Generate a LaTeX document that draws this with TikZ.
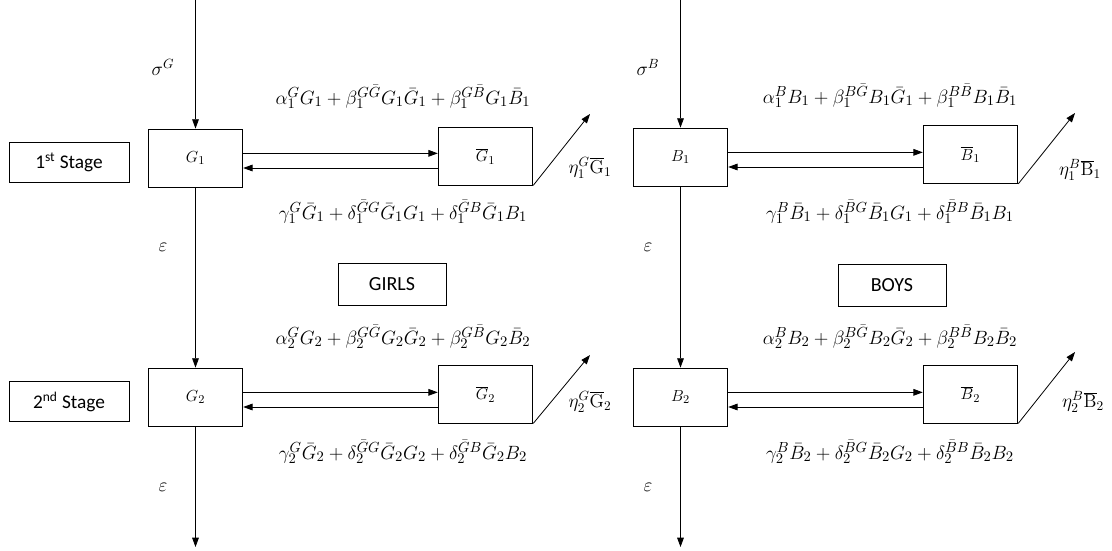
\documentclass[tikz,border=0pt]{standalone}
\usepackage{fontspec}
\setsansfont{Carlito}
\usetikzlibrary{arrows.meta, positioning}

\begin{document}
\begin{tikzpicture}[
  x=0.75pt, y=-0.75pt,
  cell/.style={
    rectangle, draw, line width=0.6pt,
    minimum width=71pt, minimum height=43.5pt, inner sep=0pt,
    font=\fontsize{13}{15}\selectfont
  },
  stagebox/.style={
    rectangle, draw, line width=0.6pt,
    minimum width=90pt, minimum height=30pt, inner sep=0pt,
    font=\sffamily\fontsize{14.5}{16}\selectfont
  },
  groupbox/.style={
    rectangle, draw, line width=0.6pt,
    minimum width=81pt, minimum height=31.5pt, inner sep=0pt,
    font=\sffamily\fontsize{15}{17}\selectfont
  },
  rate/.style={font=\fontsize{15.4}{18}\selectfont},
  lbl/.style={font=\fontsize{14}{16}\selectfont},
  arr/.style={-{Triangle[length=7pt, width=5pt]}, line width=0.6pt},
]
\useasboundingbox (0,0) rectangle (1112,550);

%% ================================================
%% STAGES
%% ================================================
\node[stagebox] (stage1) at (69,162) {1\textsuperscript{st} Stage};
\node[stagebox] (stage2) at (69,401.5) {2\textsuperscript{nd} Stage};

%% ================================================
%% GIRLS
%% ================================================
\node[cell] (G1)  at (195.5,158) {$G_1$};
\node[cell] (Gb1) at (485.5,156) {$\overline{G}_1$};
\node[cell] (G2)  at (195.5,397) {$G_2$};
\node[cell] (Gb2) at (485.5,394) {$\overline{G}_2$};
\node[groupbox] (girls) at (392,284) {GIRLS};

\coordinate (inG)  at (195.5,0);
\coordinate (outG) at (195.5,547);
\coordinate (exG1) at (590,114);
\coordinate (exG2) at (590,355);

\node[lbl] (sigG)  at (163,67)  {$\sigma^{G}$};
\node[lbl] (epsG1) at (163,247) {$\varepsilon$};
\node[lbl] (epsG2) at (163,487) {$\varepsilon$};
\node[lbl] (etaG1) at (590,168) {$\eta_1^{G}\overline{\mathrm{G}}_1$};
\node[lbl] (etaG2) at (590,402) {$\eta_2^{G}\overline{\mathrm{G}}_2$};

\node[rate] (aG1) at (403,97)
  {$\alpha_1^{G} G_1 + \beta_1^{G\bar G} G_1 \bar G_1 + \beta_1^{G\bar B} G_1 \bar B_1$};
\node[rate] (cG1) at (403,212)
  {$\gamma_1^{G} \bar G_1 + \delta_1^{\bar G G} \bar G_1 G_1 + \delta_1^{\bar G B} \bar G_1 B_1$};
\node[rate] (aG2) at (403,337)
  {$\alpha_2^{G} G_2 + \beta_2^{G\bar G} G_2 \bar G_2 + \beta_2^{G\bar B} G_2 \bar B_2$};
\node[rate] (cG2) at (403,452)
  {$\gamma_2^{G} \bar G_2 + \delta_2^{\bar G G} \bar G_2 G_2 + \delta_2^{\bar G B} \bar G_2 B_2$};

%% ================================================
%% BOYS
%% ================================================
\node[cell] (B1)  at (680.5,157) {$B_1$};
\node[cell] (Bb1) at (970.5,154.5) {$\overline{B}_1$};
\node[cell] (B2)  at (680.5,397) {$B_2$};
\node[cell] (Bb2) at (970.5,394) {$\overline{B}_2$};
\node[groupbox] (boys) at (892,285) {BOYS};

\coordinate (inB)  at (680.5,0);
\coordinate (outB) at (680.5,547);
\coordinate (exB1) at (1075,113);
\coordinate (exB2) at (1075,352);

\node[lbl] (sigB)  at (648,67)  {$\sigma^{B}$};
\node[lbl] (epsB1) at (648,247) {$\varepsilon$};
\node[lbl] (epsB2) at (648,487) {$\varepsilon$};
\node[lbl] (etaB1) at (1080,170) {$\eta_1^{B}\overline{\mathrm{B}}_1$};
\node[lbl] (etaB2) at (1083,402) {$\eta_2^{B}\overline{\mathrm{B}}_2$};

\node[rate] (aB1) at (890,96)
  {$\alpha_1^{B} B_1 + \beta_1^{B\bar G} B_1 \bar G_1 + \beta_1^{B\bar B} B_1 \bar B_1$};
\node[rate] (cB1) at (890,212)
  {$\gamma_1^{B} \bar B_1 + \delta_1^{\bar B G} \bar B_1 G_1 + \delta_1^{\bar B B} \bar B_1 B_1$};
\node[rate] (aB2) at (890,337)
  {$\alpha_2^{B} B_2 + \beta_2^{B\bar G} B_2 \bar G_2 + \beta_2^{B\bar B} B_2 \bar B_2$};
\node[rate] (cB2) at (890,452)
  {$\gamma_2^{B} \bar B_2 + \delta_2^{\bar B G} \bar B_2 G_2 + \delta_2^{\bar B B} \bar B_2 B_2$};

%% ================================================
%% CONNECTIONS
%% ================================================

%% flow down the stages
\draw[arr] (inG) -- (G1);
\draw[arr] (G1) -- (G2);
\draw[arr] (G2) -- (outG);
\draw[arr] (inB) -- (B1);
\draw[arr] (B1) -- (B2);
\draw[arr] (B2) -- (outB);

%% exchange between the two states
\draw[arr] ([yshift=3.5pt]G1.east) -- ([yshift=3.5pt]G1.east -| Gb1.west);
\draw[arr] ([yshift=-7.5pt]G1.east -| Gb1.west) -- ([yshift=-7.5pt]G1.east);
\draw[arr] ([yshift=3.5pt]G2.east) -- ([yshift=3.5pt]G2.east -| Gb2.west);
\draw[arr] ([yshift=-7.5pt]G2.east -| Gb2.west) -- ([yshift=-7.5pt]G2.east);
\draw[arr] ([yshift=3.5pt]B1.east) -- ([yshift=3.5pt]B1.east -| Bb1.west);
\draw[arr] ([yshift=-7.5pt]B1.east -| Bb1.west) -- ([yshift=-7.5pt]B1.east);
\draw[arr] ([yshift=3.5pt]B2.east) -- ([yshift=3.5pt]B2.east -| Bb2.west);
\draw[arr] ([yshift=-7.5pt]B2.east -| Bb2.west) -- ([yshift=-7.5pt]B2.east);

%% exits
\draw[arr] (Gb1.south east) -- (exG1);
\draw[arr] (Gb2.south east) -- (exG2);
\draw[arr] (Bb1.south east) -- (exB1);
\draw[arr] (Bb2.south east) -- (exB2);

\end{tikzpicture}
\end{document}
